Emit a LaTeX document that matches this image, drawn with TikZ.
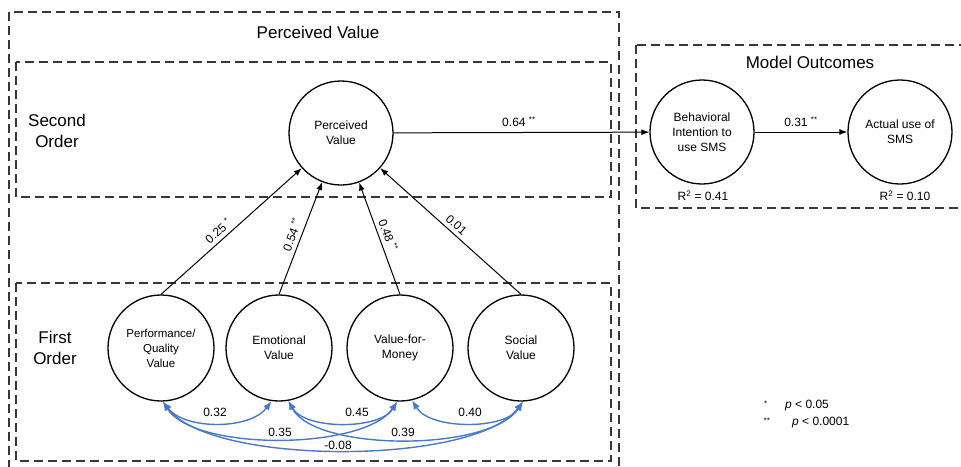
\documentclass[tikz,border=0pt]{standalone}
\usepackage{fontspec}
\setmainfont{Liberation Sans}
\usetikzlibrary{arrows.meta}
\definecolor{cblue}{RGB}{72,122,200}
\definecolor{dgray}{RGB}{55,55,55}
\begin{document}
\begin{tikzpicture}[x=1pt,y=-1pt,
  box/.style={draw=dgray, line width=1.4pt, dash pattern=on 9pt off 5pt},
  var/.style={circle, draw=black, line width=1.3pt, minimum size=104pt, inner sep=0pt, align=center, font=\fontsize{12}{15}\selectfont},
  lvar/.style={var, minimum size=106pt},
  arr/.style={-{Latex[length=8pt,width=6pt]}, line width=1pt},
  cov/.style={{Latex[length=9pt,width=7pt]}-{Latex[length=9pt,width=7pt]}, draw=cblue, line width=1.4pt},
  lbl/.style={font=\fontsize{12}{14}\selectfont, inner sep=2pt},
  ttl/.style={font=\fontsize{17}{21}\selectfont, align=center}]
\useasboundingbox (0,0) rectangle (961,466);
\fill[white] (0,0) rectangle (961,466);
% boxes
\draw[box] (9,12) rectangle (619,480);
\draw[box] (16,62) rectangle (611,197);
\draw[box] (16,283) rectangle (611,461);
\draw[box] (636,45) rectangle (975,208);
% titles
\node[ttl] (tpv) at (318,32) {Perceived Value};
\node[ttl] (tmo) at (810,62) {Model Outcomes};
\node[ttl] (tso) at (57,131) {Second\\Order};
\node[ttl] (tfo) at (55,348) {First\\Order};
% latent variables
\node[var] (pv) at (341,133) {Perceived\\Value};
\node[var] (bi) at (702,132) {Behavioral\\Intention to\\use SMS};
\node[var] (au) at (900,132) {Actual use of\\SMS};
\node[lvar, font=\fontsize{11.5}{15}\selectfont] (pq) at (161,348) {Performance/\\Quality\\Value};
\node[lvar] (ev) at (279,348) {Emotional\\Value};
\node[lvar] (vm) at (400,348) {Value-for-\\Money};
\node[lvar] (sv) at (521,348) {Social\\Value};
% R squared
\node[lbl] (r1) at (703,196) {R\textsuperscript{2} = 0.41};
\node[lbl] (r2) at (905,196) {R\textsuperscript{2} = 0.10};
% structural paths
\draw[arr] (pv) -- node[lbl, above=3pt, pos=0.49] {0.64 \textsuperscript{**}} (bi);
\draw[arr] (bi) -- node[lbl, above=3pt] {0.31 \textsuperscript{**}} (au);
\draw[arr] (pq.north) -- node[lbl, sloped, above=2pt, pos=0.45] {0.25 \textsuperscript{*}} (pv);
\draw[arr] (ev.north) -- node[lbl, sloped, above=2pt] {0.54 \textsuperscript{**}} (pv);
\draw[arr] (vm.north) -- node[lbl, sloped, above=2pt] {0.48 \textsuperscript{**}} (pv);
\draw[arr] (sv.north) -- node[lbl, sloped, above=2pt] {0.01} (pv);
% correlations
\draw[cov] (pq.-88) .. controls (185,430) and (250,430) .. (ev.-98);
\draw[cov] (ev.-80) .. controls (305,430) and (380,430) .. (vm.-93);
\draw[cov] (vm.-77) .. controls (430,430) and (505,430) .. (sv.-88);
\draw[cov] (pq.-88) .. controls (195,452) and (365,450) .. (vm.-93);
\draw[cov] (ev.-80) .. controls (315,452) and (490,452) .. (sv.-88);
\draw[cov] (pq.-88) .. controls (210,466) and (475,466) .. (sv.-88);
\node[lbl] (c1) at (215,412) {0.32};
\node[lbl] (c2) at (357,412) {0.45};
\node[lbl] (c3) at (470,412) {0.40};
\node[lbl] (c4) at (280,432) {0.35};
\node[lbl] (c5) at (403,432) {0.39};
\node[lbl] (c6) at (338,445) {-0.08};
% legend
\node[lbl] (ls1) at (766,406) {\textsuperscript{*}};
\node[lbl, anchor=west] (lp1) at (783,406) {\textit{p} < 0.05};
\node[lbl] (ls2) at (767,423) {\textsuperscript{**}};
\node[lbl, anchor=west] (lp2) at (790,423) {\textit{p} < 0.0001};
\end{tikzpicture}
\end{document}
